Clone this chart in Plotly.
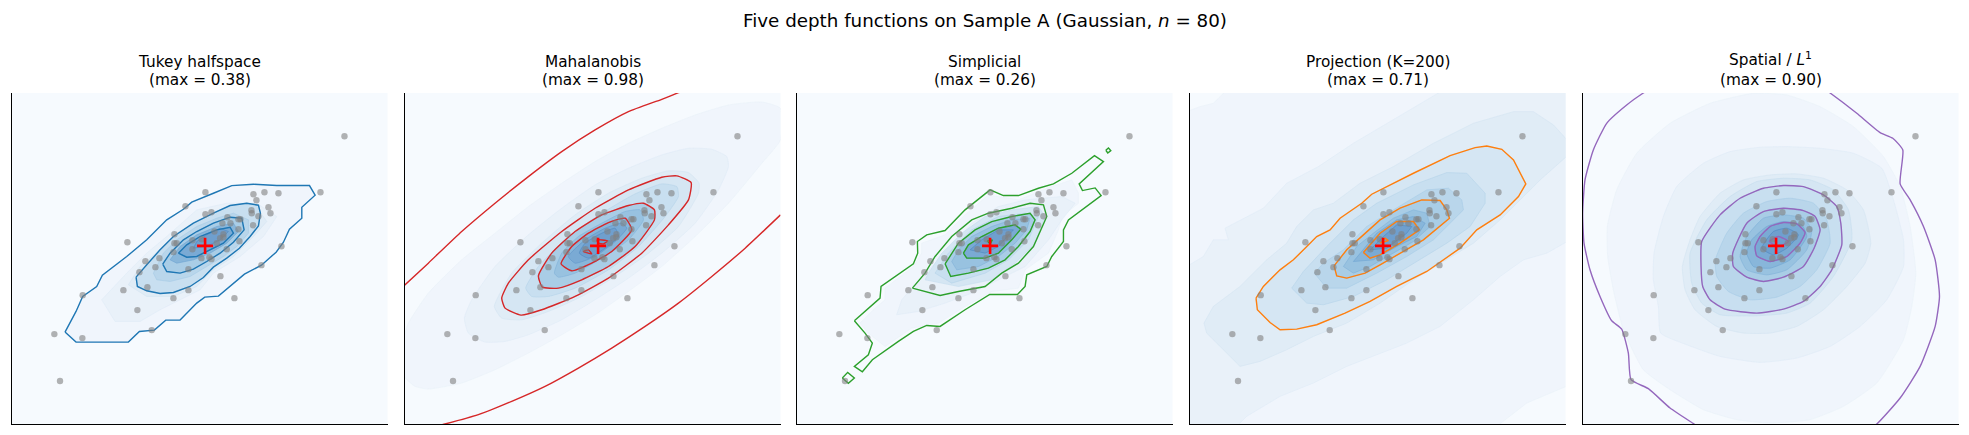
import plotly.graph_objects as go

sample_x = [1033, 961, 835, 793, 760, 769, 805, 811, 754, 755, 775, 721, 715, 691, 682, 667, 759, 715,
            616, 556, 616, 634, 523, 523, 530, 520, 382, 436, 478, 466, 418, 442, 370, 412, 248, 163,
            247, 455, 520, 565, 565, 661, 703, 784, 844, 718, 680, 634, 628, 604, 577, 577, 643, 670,
            660, 670, 180, 605, 650]
sample_y = [289, 457, 460, 457, 463, 481, 502, 520, 511, 520, 529, 538, 538, 550, 532, 550, 556, 568,
            457, 499, 523, 517, 583, 610, 610, 637, 607, 664, 655, 682, 697, 742, 751, 811, 766, 883,
            895, 871, 775, 751, 688, 709, 775, 676, 619, 604, 628, 658, 652, 655, 628, 601, 575, 583,
            595, 592, 1024, 598, 610]

median_x = 615
median_y = 618

titles = ["Tukey halfspace", "Mahalanobis", "Simplicial", "Projection (K=200)", "Spatial / <i>L</i><sup>1</sup>"]
subtitles = ["(max = 0.38)", "(max = 0.98)", "(max = 0.26)", "(max = 0.71)", "(max = 0.90)"]
line_colors = ["#1f77b4", "#d62728", "#2ca02c", "#ff7f0e", "#9467bd"]
blues = ["#f0f5fc", "#e9f1f9", "#e0ecf6", "#d5e6f3", "#c8dff0", "#b9d6eb",
         "#a9cde6", "#98c2e0", "#88b6da", "#7aaad4", "#6f9fce"]
blues_edge = ["#e9f1f9", "#dfebf6", "#d3e4f2", "#c6ddef", "#b6d4ea", "#a6cbe5",
              "#94bfdf", "#82b2d8", "#6fa4d1", "#5f96c9", "#4f88c0"]

# each panel was read with its own small x offset
x_offsets = [0, 6, 0, 6, -3]
# panels whose contours run smooth in the picture
smooth_panel = [False, True, False, False, True]

tukey_lines = [
    [(195, 877), (228, 815), (248, 770), (290, 740), (307, 706), (380, 650), (440, 600), (500, 540), (550, 508),
     (575, 487), (640, 460), (695, 437), (760, 433), (830, 437), (928, 437), (945, 466), (905, 502), (905, 535),
     (868, 568), (850, 607), (828, 637), (784, 676), (733, 703), (685, 742), (655, 769), (614, 772), (590, 790),
     (540, 841), (497, 841), (463, 871), (418, 875), (385, 907), (300, 907), (228, 907)],
    [(408, 712), (412, 740), (440, 753), (480, 761), (520, 758), (570, 740), (610, 713), (640, 682), (680, 655),
     (718, 625), (750, 590), (775, 558), (781, 520), (775, 496), (740, 490), (690, 497), (640, 520), (580, 550),
     (520, 590), (480, 630), (440, 675)],
    [(488, 673), (500, 695), (540, 700), (580, 688), (620, 665), (660, 640), (700, 607), (732, 570), (725, 535),
     (690, 532), (640, 550), (590, 575), (550, 600), (510, 640)],
    [(535, 640), (560, 652), (590, 650), (630, 630), (670, 610), (700, 580), (690, 562), (650, 570), (600, 590),
     (560, 615)],
]
tukey_fills = [
    tukey_lines[0],
    [(305, 780), (380, 700), (440, 640), (500, 590), (590, 510), (680, 490), (770, 490), (830, 530), (790, 590),
     (720, 650), (640, 700), (600, 750), (540, 780), (480, 810), (420, 845), (345, 845)],
    [(385, 735), (420, 680), (480, 630), (540, 580), (620, 530), (700, 510), (775, 510), (800, 545), (760, 590),
     (700, 650), (640, 690), (590, 740), (520, 770), (440, 770)],
    tukey_lines[1],
    [(460, 700), (470, 720), (510, 725), (570, 710), (620, 680), (670, 650), (710, 620), (745, 580), (745, 540),
     (700, 520), (650, 535), (590, 560), (530, 600), (490, 640)],
    tukey_lines[2],
    [(510, 660), (530, 670), (580, 660), (630, 640), (680, 610), (715, 575), (700, 550), (650, 560), (590, 585),
     (540, 620)],
    tukey_lines[3],
    [(580, 625), (620, 620), (660, 600), (685, 575), (660, 565), (620, 585), (590, 605)],
]

mahalanobis_arcs = [
    [(28, 737), (100, 670), (200, 575), (300, 490), (400, 410), (500, 335), (600, 270), (700, 215), (800, 178),
     (850, 158), (900, 140)],
    [(100, 1165), (150, 1153), (250, 1125), (350, 1085), (450, 1040), (550, 985), (650, 925), (750, 860), (850, 790),
     (950, 710), (1050, 625), (1156, 525)],
]
mahalanobis_lines = [
    [(320, 775), (330, 805), (378, 826), (440, 810), (540, 770), (640, 715), (740, 640), (820, 555), (880, 480),
     (888, 428), (845, 408), (800, 412), (700, 450), (600, 505), (500, 575), (400, 660), (340, 730)],
    [(430, 708), (442, 742), (490, 745), (560, 720), (640, 680), (720, 620), (778, 540), (778, 510), (745, 490),
     (700, 497), (620, 525), (540, 575), (470, 640)],
    [(498, 672), (530, 693), (590, 670), (650, 635), (710, 570), (690, 535), (640, 548), (580, 580), (530, 620)],
    [(565, 635), (590, 642), (580, 630)],
    [(605, 600), (638, 603), (625, 612), (610, 610)],
]
mahalanobis_fills = [
    [(100, 1048), (200, 1030), (300, 990), (400, 940), (500, 885), (600, 825), (700, 755), (800, 680), (900, 590),
     (1000, 490), (1100, 370), (1156, 300), (1156, 205), (1100, 186), (1000, 195), (900, 225), (800, 265), (700, 310),
     (600, 365), (500, 430), (400, 500), (300, 580), (200, 660), (100, 760), (40, 850), (28, 890), (28, 1010), (60, 1040)],
    [(208, 835), (220, 880), (270, 907), (330, 905), (400, 885), (500, 840), (600, 780), (700, 715), (800, 640),
     (900, 550), (970, 450), (1000, 380), (995, 350), (950, 328), (880, 325), (800, 345), (700, 385), (600, 435),
     (500, 505), (400, 585), (300, 680), (230, 780)],
    [(298, 800), (320, 835), (380, 840), (460, 815), (560, 770), (660, 710), (760, 640), (850, 560), (910, 460),
     (912, 430), (880, 398), (820, 393), (740, 415), (640, 460), (540, 525), (440, 610), (350, 700)],
    mahalanobis_lines[0],
    [(392, 745), (410, 770), (460, 770), (540, 745), (640, 690), (730, 620), (810, 530), (850, 470), (845, 440),
     (800, 432), (720, 462), (620, 520), (520, 590), (430, 680)],
    mahalanobis_lines[1],
    [(478, 700), (490, 712), (540, 700), (620, 655), (700, 600), (745, 540), (735, 510), (690, 515), (620, 550),
     (550, 590), (500, 640)],
    mahalanobis_lines[2],
    [(520, 650), (540, 670), (600, 650), (660, 605), (695, 565), (680, 550), (630, 565), (570, 600)],
    [(553, 640), (580, 655), (630, 625), (670, 590), (660, 565), (610, 585), (570, 610)],
]

simplicial_lines = [
    [(208, 843), (240, 815), (285, 775), (288, 740), (345, 700), (385, 672), (398, 640), (397, 605), (425, 585),
     (480, 572), (540, 510), (615, 450), (655, 467), (700, 467), (760, 445), (805, 432), (860, 400), (928, 347),
     (955, 365), (882, 432), (892, 452), (930, 444), (948, 467), (895, 505), (850, 540), (835, 570), (835, 605),
     (800, 650), (785, 680), (725, 705), (720, 740), (697, 764), (614, 764), (540, 810), (465, 860), (425, 857),
     (385, 875), (340, 905), (262, 960), (232, 996), (208, 980), (250, 945), (262, 910), (240, 880)],
    [(172, 1015), (188, 998), (208, 1015), (190, 1031)],
    [(962, 331), (970, 324), (977, 332), (968, 339)],
    [(382, 745), (465, 767), (520, 755), (600, 740), (650, 700), (700, 670), (745, 620), (785, 530), (775, 495),
     (735, 490), (680, 505), (610, 520), (560, 540), (500, 590), (450, 650), (420, 700)],
    [(480, 672), (497, 710), (550, 700), (610, 685), (660, 660), (700, 620), (735, 575), (750, 540), (735, 520),
     (680, 530), (620, 545), (570, 570), (520, 610)],
    [(535, 640), (545, 655), (600, 655), (640, 640), (680, 600), (707, 568), (690, 555), (640, 565), (590, 590),
     (550, 615)],
    [(606, 603), (622, 600), (615, 612)],
]
simplicial_fills = [
    [(225, 850), (265, 810), (300, 780), (300, 745), (385, 680), (410, 640), (410, 610), (480, 585), (540, 525),
     (610, 465), (700, 480), (800, 440), (860, 420), (880, 460), (880, 490), (830, 530), (820, 570), (790, 640),
     (720, 690), (700, 745), (620, 755), (540, 800), (460, 850), (380, 865), (300, 920), (250, 880)],
    [(335, 825), (350, 780), (420, 700), (480, 640), (560, 550), (640, 500), (720, 480), (830, 470), (870, 490),
     (830, 540), (790, 600), (720, 680), (640, 720), (560, 760), (480, 790), (400, 815)],
    [(420, 720), (430, 700), (470, 640), (530, 580), (600, 530), (680, 510), (760, 500), (780, 530), (750, 610),
     (690, 670), (620, 720), (520, 740)],
    [(450, 700), (490, 640), (560, 570), (640, 530), (720, 520), (760, 530), (730, 600), (670, 660), (600, 700),
     (500, 730)],
    simplicial_lines[4],
    [(500, 665), (515, 690), (580, 680), (640, 650), (690, 610), (725, 570), (735, 535), (680, 540), (620, 560),
     (560, 590), (520, 630)],
    simplicial_lines[5],
    [(555, 630), (600, 640), (640, 620), (685, 570), (640, 570), (590, 600)],
]

projection_lines = [
    [(228, 775), (232, 810), (270, 848), (300, 870), (350, 868), (410, 855), (495, 820), (570, 785), (650, 740),
     (740, 695), (840, 625), (890, 570), (960, 525), (1015, 470), (1037, 432), (1000, 360), (965, 328), (920, 318),
     (885, 323), (810, 347), (700, 400), (640, 430), (575, 463), (545, 490), (480, 535), (450, 570), (410, 590),
     (375, 625), (340, 660), (300, 690), (250, 740)],
    [(462, 678), (470, 708), (500, 715), (555, 700), (600, 675), (660, 640), (730, 600), (808, 535), (800, 510),
     (780, 482), (725, 480), (660, 505), (600, 540), (550, 585), (500, 630)],
    [(550, 638), (570, 655), (600, 645), (660, 610), (718, 570), (700, 545), (650, 545), (600, 580)],
    [(600, 610), (625, 602), (615, 595)],
]
projection_fills = [
    [(20, 215), (60, 200), (100, 190), (140, 150), (1170, 150), (1170, 1035), (1040, 1090), (950, 1160), (20, 1160)],
    [(20, 680), (70, 650), (100, 600), (145, 600), (135, 565), (250, 505), (320, 430), (415, 380), (520, 310),
     (640, 240), (760, 170), (790, 150), (1170, 150), (1170, 600), (1100, 640), (1030, 660), (960, 710), (880, 780),
     (830, 820), (780, 860), (680, 910), (580, 950), (500, 980), (400, 1030), (300, 1070), (200, 1130), (170, 1160),
     (20, 1160)],
    [(72, 850), (100, 800), (180, 740), (260, 660), (320, 610), (350, 560), (400, 510), (460, 490), (540, 430),
     (640, 380), (760, 310), (880, 250), (1000, 215), (1060, 215), (1120, 255), (1170, 310), (1170, 340), (1080, 420),
     (1020, 480), (960, 540), (880, 610), (800, 660), (700, 720), (600, 790), (500, 850), (400, 890), (320, 930),
     (240, 965), (180, 980), (130, 930), (80, 880)],
    projection_lines[0],
    [(335, 745), (380, 790), (430, 795), (520, 770), (620, 720), (720, 660), (800, 610), (870, 560), (915, 490),
     (915, 460), (860, 400), (800, 398), (700, 435), (590, 490), (520, 540), (440, 620), (370, 695)],
    [(403, 700), (440, 745), (500, 745), (590, 700), (680, 650), (760, 600), (850, 510), (845, 480), (805, 445),
     (740, 450), (640, 510), (560, 560), (490, 630), (430, 670)],
    projection_lines[1],
    [(490, 680), (520, 700), (570, 680), (640, 640), (700, 605), (750, 560), (740, 520), (700, 510), (640, 535),
     (580, 580), (530, 620)],
    [(520, 665), (580, 660), (650, 620), (710, 590), (735, 550), (700, 530), (650, 540), (590, 580)],
    projection_lines[2],
    [(570, 630), (620, 625), (680, 580), (695, 560), (650, 555), (610, 590)],
]

spatial_arcs = [
    [(260, 135), (220, 159), (170, 195), (110, 250), (70, 330), (45, 420), (38, 520), (42, 610), (60, 690), (90, 770),
     (125, 843), (155, 868), (175, 940), (183, 1020), (235, 1047), (300, 1105), (372, 1153), (400, 1172)],
    [(745, 135), (780, 159), (860, 220), (930, 278), (968, 295), (998, 330), (990, 432), (1020, 480), (1060, 560),
     (1095, 660), (1108, 770), (1095, 860), (1050, 980), (990, 1075), (920, 1153), (890, 1172)],
]
spatial_lines = [
    [(395, 605), (393, 680), (398, 740), (420, 780), (465, 808), (560, 820), (640, 808), (700, 785), (750, 740),
     (785, 690), (815, 615), (812, 550), (800, 500), (760, 465), (700, 440), (640, 437), (580, 445), (510, 475), (450, 525)],
    [(488, 640), (490, 680), (530, 712), (580, 725), (640, 712), (700, 680), (732, 625), (750, 570), (735, 530),
     (700, 512), (640, 505), (580, 515), (530, 550)],
    [(555, 620), (560, 648), (600, 665), (650, 650), (690, 610), (705, 578), (680, 552), (640, 548), (600, 560), (570, 590)],
    [(598, 605), (625, 620), (655, 605), (625, 590)],
]
spatial_fills = [
    [(113, 650), (130, 750), (160, 870), (220, 990), (300, 1050), (400, 1110), (500, 1140), (600, 1150), (720, 1140),
     (820, 1100), (920, 1030), (1000, 900), (1025, 800), (1037, 700), (1020, 560), (990, 440), (940, 350), (850, 260),
     (750, 200), (650, 165), (550, 160), (420, 190), (300, 250), (200, 340), (140, 450), (112, 560)],
    [(250, 720), (265, 800), (272, 880), (350, 915), (450, 950), (570, 968), (680, 955), (780, 920), (870, 860),
     (950, 780), (1000, 680), (1000, 600), (970, 480), (935, 385), (850, 340), (750, 325), (650, 320), (570, 322),
     (480, 335), (400, 370), (320, 440), (280, 530), (252, 640)],
    [(337, 680), (345, 750), (375, 810), (440, 860), (520, 880), (600, 880), (680, 860), (760, 810), (830, 740),
     (885, 670), (902, 610), (880, 510), (830, 450), (760, 415), (680, 402), (600, 405), (520, 420), (450, 460),
     (390, 530), (360, 600)],
    [(360, 640), (365, 730), (395, 790), (450, 825), (560, 828), (650, 820), (720, 790), (790, 710), (845, 600),
     (835, 510), (790, 450), (720, 420), (640, 415), (560, 425), (480, 470), (410, 540)],
    spatial_lines[0],
    [(436, 660), (440, 710), (475, 755), (540, 780), (620, 772), (690, 740), (740, 690), (780, 610), (770, 540),
     (730, 490), (660, 475), (590, 485), (520, 520), (470, 580)],
    spatial_lines[1],
    [(510, 650), (530, 690), (590, 705), (650, 690), (710, 630), (725, 570), (700, 535), (640, 525), (580, 535), (530, 590)],
    [(530, 640), (550, 680), (600, 685), (660, 660), (710, 590), (695, 555), (640, 545), (590, 560), (545, 600)],
    spatial_lines[2],
    [(575, 625), (610, 645), (650, 625), (685, 585), (650, 565), (610, 575)],
]

panel_fills = [tukey_fills, mahalanobis_fills, simplicial_fills, projection_fills, spatial_fills]
panel_lines = [tukey_lines, mahalanobis_lines, simplicial_lines, projection_lines, spatial_lines]
panel_arcs = [[], mahalanobis_arcs, [], [], spatial_arcs]

# where the panels sit in the 1969x435 picture, in pixels
W, H = 1969, 435
panel_left = [11.5, 404.5, 796.5, 1189.5, 1582.5]
panel_width = 376
panel_top = 93
panel_bottom = 424


def unzip(points, offset, close=False):
    xs = [p[0] + offset for p in points]
    ys = [p[1] for p in points]
    if close:
        xs.append(xs[0])
        ys.append(ys[0])
    return xs, ys


def add_text(fig, text, x_px, y_px, size):
    fig.add_annotation(text=text, xref="paper", yref="paper", x=x_px / W, y=1 - y_px / H,
                       xanchor="center", yanchor="middle", showarrow=False,
                       font=dict(family="DejaVu Sans", size=size, color="black"))


fig = go.Figure()

for i in range(5):
    xref = "x" if i == 0 else f"x{i + 1}"
    yref = "y" if i == 0 else f"y{i + 1}"
    off = x_offsets[i]
    shape = dict(shape="spline", smoothing=0.5) if smooth_panel[i] else dict(shape="linear")

    fills = panel_fills[i]
    for j, poly in enumerate(fills):
        idx = round(j * (len(blues) - 1) / (len(fills) - 1))
        xs, ys = unzip(poly, off, close=True)
        fig.add_trace(go.Scatter(x=xs, y=ys, mode="lines", fill="toself", fillcolor=blues[idx],
                                 line=dict(color=blues_edge[idx], width=0.6, **shape), xaxis=xref, yaxis=yref))

    for poly in panel_lines[i]:
        xs, ys = unzip(poly, off, close=True)
        fig.add_trace(go.Scatter(x=xs, y=ys, mode="lines", line=dict(color=line_colors[i], width=1.4, **shape),
                                 xaxis=xref, yaxis=yref))
    for poly in panel_arcs[i]:
        xs, ys = unzip(poly, off)
        fig.add_trace(go.Scatter(x=xs, y=ys, mode="lines", line=dict(color=line_colors[i], width=1.4, **shape),
                                 xaxis=xref, yaxis=yref))

    fig.add_trace(go.Scatter(x=sample_x, y=sample_y, mode="markers",
                             marker=dict(color="rgba(128,128,128,0.6)", size=6.4, line=dict(width=0)),
                             xaxis=xref, yaxis=yref))
    fig.add_trace(go.Scatter(x=[median_x], y=[median_y], mode="markers",
                             marker=dict(symbol="cross-thin", size=11.5, line=dict(color="#ff0000", width=2.6)),
                             xaxis=xref, yaxis=yref))

    axis_style = dict(showgrid=False, zeroline=False, showticklabels=False, ticks="", showline=True,
                      linecolor="black", linewidth=1.3, mirror=False, fixedrange=True)
    x_name = "xaxis" if i == 0 else f"xaxis{i + 1}"
    y_name = "yaxis" if i == 0 else f"yaxis{i + 1}"
    fig.update_layout({
        x_name: dict(domain=[panel_left[i] / W, (panel_left[i] + panel_width) / W], range=[34.5, 1162],
                     anchor=yref, **axis_style),
        y_name: dict(domain=[1 - panel_bottom / H, 1 - panel_top / H], range=[1153, 159],
                     anchor=xref, **axis_style),
    })

    center = panel_left[i] + panel_width / 2
    add_text(fig, titles[i], center, 59.5 if i == 4 else 62.5, 15.3)
    add_text(fig, subtitles[i], center, 80, 15.3)

add_text(fig, "Five depth functions on Sample A (Gaussian, <i>n</i> = 80)", 985, 21, 18.3)

fig.update_layout(width=W, height=H, margin=dict(l=0, r=0, t=0, b=0), showlegend=False,
                  paper_bgcolor="white", plot_bgcolor="#f6fafe", hovermode=False)

fig.write_html("out.html", config={"displayModeBar": False},
               post_script="document.body.style.margin = '0';")
